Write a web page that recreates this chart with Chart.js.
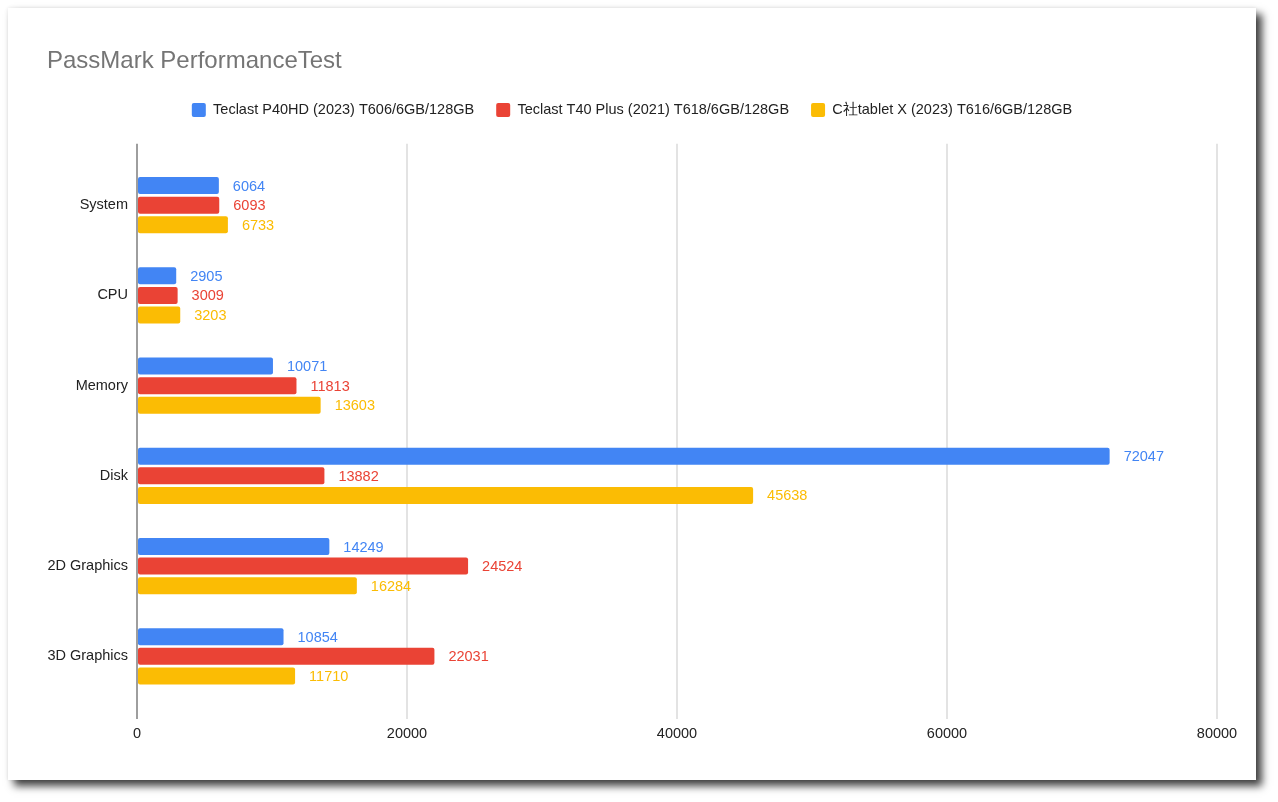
<!DOCTYPE html>
<html>
<head>
<meta charset="utf-8">
<title>PassMark PerformanceTest</title>
<script src="https://cdn.jsdelivr.net/npm/chart.js@4"></script>
<style>
  html, body { margin: 0; padding: 0; background: #ffffff; }
  #card {
    position: absolute;
    left: 8px;
    top: 8px;
    width: 1248px;
    height: 772px;
    background: #ffffff;
    box-shadow: 6px 6px 8px rgba(0, 0, 0, 0.75), 0 0 4px rgba(0, 0, 0, 0.1);
  }
</style>
</head>
<body>
<div id="card"><canvas id="chart"></canvas></div>
<script>
// data
const categories = ['System', 'CPU', 'Memory', 'Disk', '2D Graphics', '3D Graphics'];
const seriesNames = [
  'Teclast P40HD (2023) T606/6GB/128GB',
  'Teclast T40 Plus (2021) T618/6GB/128GB',
  'C社tablet X (2023) T616/6GB/128GB'
];
const p40hdScores = [6064, 2905, 10071, 72047, 14249, 10854];
const t40plusScores = [6093, 3009, 11813, 13882, 24524, 22031];
const tabletXScores = [6733, 3203, 13603, 45638, 16284, 11710];
const xTicks = [0, 20000, 40000, 60000, 80000];

const colors = ['#4285F4', '#EA4335', '#FBBC04'];
const fontFamily = "'Liberation Sans', Arial, sans-serif";

Chart.defaults.font.family = fontFamily;
Chart.defaults.color = '#222222';

const toPoints = (values) => values.map((v, i) => ({ x: v, y: i }));

// value annotations to the right of every bar
const barLabels = {
  id: 'barLabels',
  afterDatasetsDraw(chart) {
    const ctx = chart.ctx;
    ctx.save();
    ctx.font = '14.5px ' + fontFamily;
    ctx.textAlign = 'left';
    ctx.textBaseline = 'middle';
    chart.data.datasets.forEach((ds, di) => {
      const meta = chart.getDatasetMeta(di);
      ctx.fillStyle = ds.backgroundColor;
      meta.data.forEach((bar, i) => {
        ctx.fillText(String(ds.data[i].x), bar.x + 14, bar.y + 1);
      });
    });
    ctx.restore();
  }
};

new Chart(document.getElementById('chart'), {
  type: 'bar',
  data: {
    datasets: [
      { label: seriesNames[0], data: toPoints(p40hdScores), backgroundColor: colors[0] },
      { label: seriesNames[1], data: toPoints(t40plusScores), backgroundColor: colors[1] },
      { label: seriesNames[2], data: toPoints(tabletXScores), backgroundColor: colors[2] }
    ]
  },
  options: {
    indexAxis: 'y',
    responsive: true,
    maintainAspectRatio: false,
    animation: false,
    categoryPercentage: 0.65,
    barPercentage: 0.87,
    borderRadius: 2,
    borderSkipped: false,
    layout: {
      padding: { left: 39, right: 39, top: 20, bottom: 30 }
    },
    plugins: {
      title: {
        display: true,
        text: 'PassMark PerformanceTest',
        align: 'start',
        color: '#757575',
        font: { size: 24, weight: 'normal' },
        padding: { top: 19, bottom: 5 }
      },
      // empty spacer between the legend and the plot
      subtitle: {
        display: true,
        text: ' ',
        weight: 500,
        font: { size: 10, lineHeight: 1.65 },
        padding: 0
      },
      legend: {
        position: 'top',
        labels: {
          boxWidth: 14,
          boxHeight: 14,
          useBorderRadius: true,
          borderRadius: 2,
          padding: 22,
          color: '#222222',
          font: { size: 14.5 }
        }
      },
      tooltip: { enabled: false }
    },
    scales: {
      x: {
        type: 'linear',
        min: 0,
        max: 80000,
        afterBuildTicks: (scale) => { scale.ticks = xTicks.map(v => ({ value: v })); },
        ticks: {
          padding: 7,
          color: '#222222',
          font: { size: 14.5 },
          callback: (v) => String(v)
        },
        grid: {
          drawTicks: false,
          lineWidth: 2,
          color: (ctx) => (ctx.tick && ctx.tick.value === 0 ? '#9e9e9e' : '#e3e3e3')
        },
        border: { display: false }
      },
      y: {
        type: 'linear',
        reverse: true,
        offset: false,
        min: -0.68,
        max: 5.69,
        afterBuildTicks: (scale) => { scale.ticks = categories.map((c, i) => ({ value: i })); },
        afterFit: (scale) => { scale.width = 90; },
        ticks: {
          padding: 9,
          color: '#222222',
          font: { size: 14.5 },
          callback: (v) => categories[v] ?? ''
        },
        grid: { display: false, drawTicks: false },
        border: { display: false }
      }
    }
  },
  plugins: [barLabels]
});
</script>
</body>
</html>
